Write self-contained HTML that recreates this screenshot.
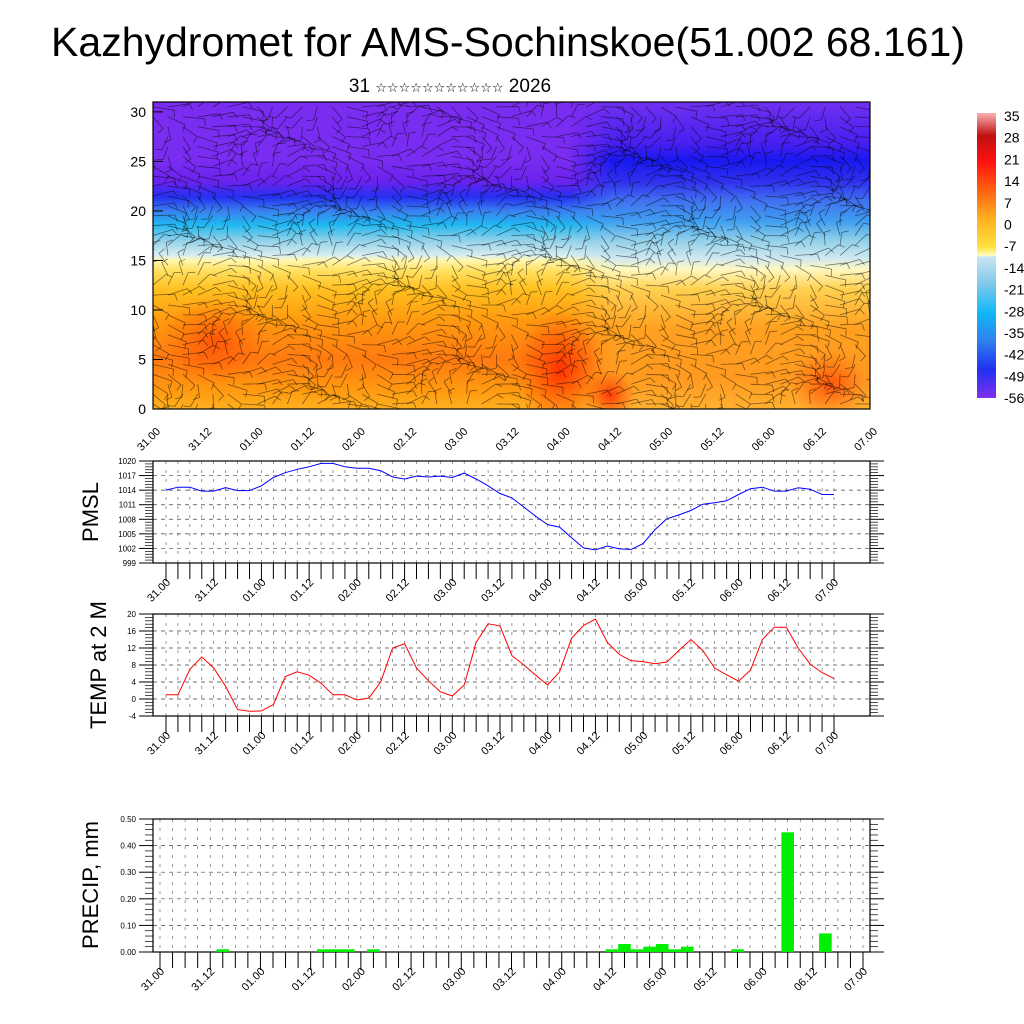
<!DOCTYPE html>
<html><head><meta charset="utf-8"><style>
html,body{margin:0;padding:0;background:#fff;overflow:hidden;width:1024px;height:1024px}
svg{display:block;font-family:"Liberation Sans",Arial,sans-serif}
</style></head><body>
<svg id="c" width="1024" height="1024" viewBox="0 0 1024 1024">
<defs>
<clipPath id="clipTop"><rect x="153" y="102" width="717" height="307"/></clipPath>
<linearGradient id="gl" x1="0" y1="0" x2="0" y2="1">
<stop offset="0" stop-color="#7a2cf0"/><stop offset="0.19" stop-color="#7a2cf0"/><stop offset="0.26" stop-color="#6a22ee"/>
<stop offset="0.31" stop-color="#2430f0"/><stop offset="0.355" stop-color="#3a80f0"/><stop offset="0.4" stop-color="#20b8f0"/>
<stop offset="0.45" stop-color="#8fd0ea"/><stop offset="0.5" stop-color="#d8eef0"/><stop offset="0.515" stop-color="#fff8b0"/>
<stop offset="0.55" stop-color="#ffe060"/><stop offset="0.61" stop-color="#ffc020"/><stop offset="0.71" stop-color="#ff9a10"/>
<stop offset="0.84" stop-color="#ff7a10"/><stop offset="0.94" stop-color="#ff9a10"/><stop offset="1" stop-color="#ffb020"/>
</linearGradient>
<linearGradient id="gr" x1="0" y1="0" x2="0" y2="1">
<stop offset="0" stop-color="#7030f0"/><stop offset="0.13" stop-color="#4a20f0"/><stop offset="0.19" stop-color="#1818f0"/>
<stop offset="0.26" stop-color="#3030ee"/><stop offset="0.32" stop-color="#4070f0"/><stop offset="0.39" stop-color="#40a0f0"/>
<stop offset="0.45" stop-color="#90d0ea"/><stop offset="0.51" stop-color="#d0e8f0"/><stop offset="0.545" stop-color="#fff8c0"/>
<stop offset="0.61" stop-color="#ffd050"/><stop offset="0.74" stop-color="#ffa020"/><stop offset="0.9" stop-color="#ff9a20"/>
<stop offset="1" stop-color="#ffb030"/>
</linearGradient>
<linearGradient id="fade" x1="0" y1="0" x2="1" y2="0">
<stop offset="0" stop-color="#fff" stop-opacity="0"/><stop offset="0.58" stop-color="#fff" stop-opacity="0"/>
<stop offset="0.64" stop-color="#fff" stop-opacity="1"/><stop offset="1" stop-color="#fff" stop-opacity="1"/>
</linearGradient>
<mask id="m"><rect x="153" y="102" width="717" height="307" fill="url(#fade)"/></mask>
<radialGradient id="red"><stop offset="0" stop-color="#ff2a00" stop-opacity="0.9"/><stop offset="1" stop-color="#ff4a00" stop-opacity="0"/></radialGradient>
<linearGradient id="cb" x1="0" y1="0" x2="0" y2="1">
<stop offset="0" stop-color="#f8b0b0"/><stop offset="0.08" stop-color="#c01010"/><stop offset="0.17" stop-color="#ff1010"/>
<stop offset="0.27" stop-color="#ff6010"/><stop offset="0.37" stop-color="#ffb020"/><stop offset="0.47" stop-color="#ffe040"/>
<stop offset="0.5" stop-color="#fffcc0"/><stop offset="0.505" stop-color="#c8e6f4"/><stop offset="0.6" stop-color="#80c8ea"/>
<stop offset="0.7" stop-color="#10b8f8"/><stop offset="0.8" stop-color="#3080ee"/><stop offset="0.9" stop-color="#2030f0"/>
<stop offset="1" stop-color="#8030f0"/>
</linearGradient>
</defs>
<text x="508" y="56" font-size="41" text-anchor="middle">Kazhydromet for AMS-Sochinskoe(51.002 68.161)</text>
<text x="450" y="92" font-size="19" text-anchor="middle" font-family="'Liberation Sans','DejaVu Sans',sans-serif">31 <tspan font-size="13">☆☆☆☆☆☆☆☆☆☆☆</tspan> 2026</text>
<g>
<g clip-path="url(#clipTop)">
<rect x="153" y="102" width="717" height="307" fill="url(#gl)"/>
<rect x="153" y="102" width="717" height="307" fill="url(#gr)" mask="url(#m)"/>
<ellipse cx="215" cy="340" rx="55" ry="45" fill="url(#red)" opacity="0.6"/>
<ellipse cx="560" cy="370" rx="45" ry="60" fill="url(#red)"/>
<ellipse cx="610" cy="395" rx="25" ry="25" fill="url(#red)"/>
<ellipse cx="830" cy="385" rx="40" ry="35" fill="url(#red)" opacity="0.7"/>
<g id="barbs" stroke="#000" stroke-opacity="0.5" stroke-width="0.8" fill="none"></g>
</g>
<rect x="153" y="102" width="717" height="307" fill="none" stroke="#000" stroke-width="1.2"/>
<g id="topaxis"></g>
</g>
<rect x="977" y="113" width="19" height="285" fill="url(#cb)"/>
<g id="cblabels" font-size="14"></g>
<g id="pmsl"></g><g id="temp"></g><g id="precip"></g>
<text transform="translate(98,512) rotate(-90)" font-size="22" text-anchor="middle">PMSL</text>
<text transform="translate(106,665) rotate(-90)" font-size="22" text-anchor="middle">TEMP at 2 M</text>
<text transform="translate(98,885) rotate(-90)" font-size="22" text-anchor="middle">PRECIP, mm</text>
</svg>
<script>
const dateLabels=["31.00","31.12","01.00","01.12","02.00","02.12","03.00","03.12","04.00","04.12","05.00","05.12","06.00","06.12","07.00"];
const pmslValues=[1014,1014.6,1014.6,1013.8,1013.8,1014.5,1013.9,1013.9,1014.9,1016.6,1017.6,1018.3,1018.8,1019.5,1019.5,1018.8,1018.5,1018.5,1018,1016.7,1016.3,1016.9,1016.7,1016.9,1016.6,1017.5,1016.3,1014.9,1013.3,1012.4,1010.5,1008.6,1006.9,1006.4,1004.2,1002.1,1001.7,1002.5,1001.9,1001.8,1003,1005.9,1008.1,1008.9,1009.8,1011.1,1011.4,1011.8,1013.1,1014.3,1014.6,1013.8,1013.8,1014.5,1014.2,1013.1,1013.1];
const pmslTicks=[999,1002,1005,1008,1011,1014,1017,1020];
const tempValues=[1,1,7,9.9,7.3,3,-2.5,-2.9,-2.8,-1.3,5.3,6.4,5.6,3.7,1,1,-0.2,0.2,4,12,13,7.3,4.3,1.7,0.7,3.3,13.3,17.7,17.2,10.2,8,5.6,3.3,6.4,14.3,17.3,18.8,13.3,10.5,9,8.8,8.3,8.7,11.4,14,11.4,7.3,5.7,4.2,6.8,14,16.9,16.9,12,8.2,6.2,4.8];
const tempTicks=[-4,0,4,8,12,16,20];
const precipIndex=[5,13,14,15,17,36,37,38,39,40,41,42,46,50,53];
const precipValues=[0.01,0.01,0.01,0.01,0.01,0.01,0.03,0.01,0.02,0.03,0.01,0.02,0.01,0.45,0.07];
const precipTicks=[0,0.1,0.2,0.3,0.4,0.5];
const heightTicks=[0,5,10,15,20,25,30];
const colorbarLabels=["35","28","21","14","7","0","-7","-14","-21","-28","-35","-42","-49","-56"];

const NS="http://www.w3.org/2000/svg";
function mk(p,t,a){const e=document.createElementNS(NS,t);for(const k in a)e.setAttribute(k,a[k]);p.appendChild(e);return e;}

const topAxis=document.getElementById('topaxis');
const tyS=v=>409-v*(307/31);
heightTicks.forEach(v=>{
  const t=mk(topAxis,'text',{x:146,y:tyS(v)+5,'font-size':14,'text-anchor':'end'});t.textContent=v;
  
  
  mk(topAxis,'line',{x1:153,x2:163,y1:tyS(v),y2:tyS(v),stroke:'#000'});
});
dateLabels.forEach((d,i)=>{
  const x=153+i*717/14;
  const t=mk(topAxis,'text',{'font-size':11,'text-anchor':'end',transform:`translate(${x+8},${432}) rotate(-45)`});t.textContent=d;
  
  
});
const bg=document.getElementById('barbs');
for(let c=0;c<49;c++){for(let r=0;r<31;r++){
  const x=153+c*717/48, y=409-r*307/31-5;
  const a=Math.sin(c*0.55+r*0.3)*1.2+Math.cos(r*0.7-c*0.2)*0.8+(r>22?0.2:0);
  const L=22;
  const x2=x+Math.cos(a)*L, y2=y+Math.sin(a)*L*0.6;
  mk(bg,'line',{x1:x.toFixed(1),y1:y.toFixed(1),x2:x2.toFixed(1),y2:y2.toFixed(1)});
  mk(bg,'line',{x1:x2.toFixed(1),y1:y2.toFixed(1),x2:(x2+Math.cos(a+1.3)*7).toFixed(1),y2:(y2+Math.sin(a+1.3)*7).toFixed(1)});
}}
const cbl=document.getElementById('cblabels');
colorbarLabels.forEach((s,i)=>{const t=mk(cbl,'text',{x:1004,y:121+i*21.7});t.textContent=s;
  
  });

function panel(gid,pTop,bot,x0,x1,ticks,fmt,nameT){
  const g=document.getElementById(gid);
  const L=153,R=870;
  const ymin=ticks[0],ymax=ticks[ticks.length-1];
  const ys=v=>bot-(v-ymin)/(ymax-ymin)*(bot-pTop);
  const xs=i=>x0+i*(x1-x0)/56;
  for(let i=0;i<=56;i++){
    mk(g,'line',{x1:xs(i),x2:xs(i),y1:pTop,y2:bot,stroke:'#555','stroke-width':0.6,'stroke-dasharray':'3,6'});
    mk(g,'line',{x1:xs(i),x2:xs(i),y1:bot,y2:bot+(i%4==0?18:16),stroke:'#000','stroke-width':1});
  }
  ticks.forEach((v,k)=>{
    mk(g,'line',{x1:L,x2:R,y1:ys(v),y2:ys(v),stroke:'#444','stroke-width':0.7,'stroke-dasharray':'4,4'});
    mk(g,'line',{x1:L-14,x2:L,y1:ys(v),y2:ys(v),stroke:'#000'});
    mk(g,'line',{x1:R,x2:R+14,y1:ys(v),y2:ys(v),stroke:'#000'});
    if(k<ticks.length-1){for(let m=1;m<5;m++){const yy=ys(v+(ticks[1]-ticks[0])*m/5);
      mk(g,'line',{x1:L-8,x2:L,y1:yy,y2:yy,stroke:'#000','stroke-width':0.7});
      mk(g,'line',{x1:R,x2:R+8,y1:yy,y2:yy,stroke:'#000','stroke-width':0.7});}}
    const t=mk(g,'text',{x:L-17,y:ys(v)+3,'font-size':8,'text-anchor':'end'});t.textContent=fmt(v);
    
    
  });
  mk(g,'rect',{x:L,y:pTop,width:R-L,height:bot-pTop,fill:'none',stroke:'#000','stroke-width':1.2});
  dateLabels.forEach((d,i)=>{
    const x=xs(i*4);
    const t=mk(g,'text',{'font-size':11,'text-anchor':'end',transform:`translate(${x+5},${bot+20}) rotate(-45)`});t.textContent=d;
    
    
  });
  return {g,xs,ys};
}
(function(){const p=panel('pmsl',461,563,166,834,pmslTicks,v=>v,'pmsl');
  const pl=mk(p.g,'polyline',{points:pmslValues.map((v,i)=>p.xs(i).toFixed(1)+','+p.ys(v).toFixed(1)).join(' '),fill:'none',stroke:'#0000ff','stroke-width':1});
  
  })();
(function(){const p=panel('temp',614,716,166,834,tempTicks,v=>v,'temp');
  const pl=mk(p.g,'polyline',{points:tempValues.map((v,i)=>p.xs(i).toFixed(1)+','+p.ys(v).toFixed(1)).join(' '),fill:'none',stroke:'#ff0000','stroke-width':1});
  
  })();
(function(){const p=panel('precip',819,952,160,863,precipTicks,v=>v.toFixed(2),'precip');
  const w=(863-160)/56;
  precipIndex.forEach((idx,k)=>{
    const y=p.ys(precipValues[k]);
    const b=mk(p.g,'rect',{x:(p.xs(idx)-w/2).toFixed(1),y:y.toFixed(1),width:w.toFixed(1),height:(952-y).toFixed(1),fill:'#00ee00'});
    
    
  });})();
</script>
</body></html>
